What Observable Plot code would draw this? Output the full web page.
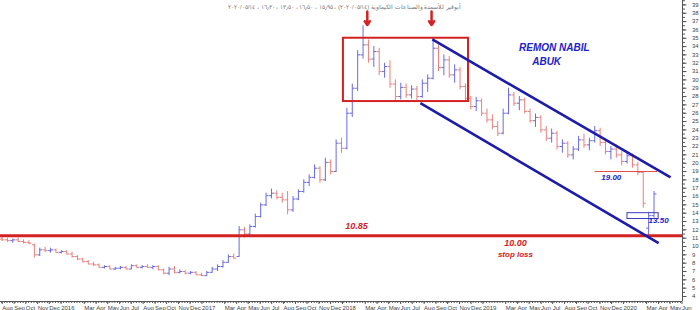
<!DOCTYPE html>
<html>
<head>
<meta charset="utf-8">
<script src="https://cdn.jsdelivr.net/npm/d3@7"></script>
<script src="https://cdn.jsdelivr.net/npm/@observablehq/plot@0.6"></script>
<style>
  html, body { margin: 0; padding: 0; background: #fff; }
  #chart svg { display: block; }
</style>
</head>
<body>
<div id="chart"></div>
<script>
// ---- Data (bi-weekly OHLC bars) ----
const firstBar = "2015-08-03";
const opens = [10.9,10.8,10.7,10.8,10.6,10.5,10.2,9.0,9.6,9.5, 9.6,9.3,9.4,9.1,8.8,8.5,8.2,7.9,7.8,7.5, 7.6,7.3,7.4,7.5,7.3,7.7,7.5,7.6,7.5,7.6, 7.2,6.8,7.3,6.9,7.0,6.8,6.9,6.6,6.5,6.9, 7.3,7.6,8.1,8.8,8.8,12.0,11.5,12.4,13.6,15.0, 16.1,16.4,15.9,15.6,14.4,15.7,16.6,17.7,18.3,19.4, 18.0,20.1,19.0,22.4,21.8,26.0,29.0,33.0,34.2,32.5, 33.4,31.0,31.6,29.5,28.0,29.1,28.2,28.9,28.0,29.6, 30.2,33.8,31.5,32.4,30.6,31.2,29.2,27.8,26.8,27.5, 26.0,25.2,24.4,23.6,26.0,28.2,27.2,27.6,26.2,25.1, 25.5,24.0,23.0,23.6,22.0,22.4,21.0,21.7,22.8,22.2, 22.7,23.9,22.5,21.4,21.7,21.0,20.2,20.9,19.8,18.9, 12.2,13.7];
const highs = [11.1,11.0,10.9,11.0,10.8,10.7,10.3,9.8,9.9,9.8, 9.7,9.5,9.5,9.3,8.9,8.6,8.3,8.1,7.9,7.7, 7.7,7.5,7.6,7.6,7.8,7.8,7.7,7.8,7.7,7.7, 7.3,7.5,7.6,7.2,7.1,7.0,7.0,6.8,7.0,7.5, 7.8,8.3,9.0,9.1,12.4,12.3,12.6,13.9,15.2,16.4, 16.9,16.7,16.4,16.6,16.0,16.8,18.0,18.6,19.8,19.6, 20.6,20.4,22.8,23.0,26.6,29.5,33.5,36.5,34.8,34.0, 33.8,32.0,32.3,30.0,29.6,29.5,29.3,29.2,30.0,30.6, 35.1,34.2,33.0,32.8,31.8,31.5,29.5,28.0,27.9,27.7, 26.5,25.8,25.0,26.5,29.0,28.5,28.0,27.8,26.5,25.9, 25.7,24.4,24.1,23.8,22.8,22.6,22.0,23.2,23.5,23.0, 24.4,24.2,22.9,22.0,22.2,21.4,21.3,21.1,20.1,19.0, 14.1,16.6];
const lows = [10.6,10.5,10.4,10.5,10.3,10.2,8.6,8.8,9.3,9.2, 9.2,9.1,9.0,8.6,8.3,8.0,7.8,7.6,7.4,7.3, 7.2,7.1,7.2,7.2,7.2,7.4,7.3,7.4,7.2,7.1, 6.6,6.5,6.7,6.7,6.6,6.6,6.5,6.4,6.4,6.8, 7.0,7.4,8.0,8.5,8.7,11.0,11.3,12.2,13.4,14.8, 15.7,15.6,15.2,13.8,14.1,15.5,16.4,17.2,18.1,17.6, 17.8,18.6,18.9,21.2,21.6,25.5,28.6,32.5,32.0,31.5, 30.5,30.2,29.0,27.5,27.6,27.8,27.7,27.5,27.8,28.5, 30.0,31.0,30.5,30.2,29.6,28.8,27.3,26.4,26.2,25.6, 24.8,24.0,23.2,23.4,25.8,26.8,26.3,25.9,24.8,24.3, 23.6,22.6,22.4,21.6,21.2,20.6,20.4,21.4,21.8,21.5, 22.4,22.0,21.0,20.4,20.6,19.7,19.9,19.4,18.5,14.6, 10.9,13.4];
const closes = [10.8,10.7,10.8,10.6,10.5,10.4,9.0,9.6,9.5,9.6, 9.3,9.4,9.1,8.8,8.5,8.2,7.9,7.8,7.5,7.6, 7.3,7.4,7.5,7.3,7.7,7.5,7.6,7.5,7.6,7.2, 6.8,7.3,6.9,7.0,6.8,6.9,6.6,6.5,6.9,7.3, 7.6,8.1,8.8,8.6,12.0,11.5,12.4,13.6,15.0,16.1, 16.4,15.9,15.6,14.4,15.7,16.6,17.7,18.3,19.4,18.0, 20.1,19.0,22.4,21.8,26.0,29.0,33.0,34.2,32.5,33.4, 31.0,31.6,29.5,28.0,29.1,28.2,28.9,28.0,29.6,30.2, 33.8,31.5,32.4,30.6,31.2,29.2,27.8,26.8,27.5,26.0, 25.2,24.4,23.6,26.0,28.2,27.2,27.6,26.2,25.1,25.5, 24.0,23.0,23.6,22.0,22.4,21.0,21.7,22.8,22.2,22.7, 23.9,22.5,21.4,21.7,21.0,20.2,20.9,19.8,18.9,15.2, 13.7,16.3];

// ---- Axis / tick definitions ----
const xDomain = [new Date("2015-07-30"), new Date("2020-06-05")];
const yDomain = [3.4, 39.53];
const yTickValues = d3.range(4, 40);           // 4 … 39
const yMinorTicks = d3.range(4, 39.6, 0.5);
const monthLabels = ["", "Feb", "Mar", "Apr", "May", "Jun", "Jul", "Aug", "Sep", "Oct", "Nov", "Dec"];
const skipMonths = ["Feb"];

// ---- Annotations (data coordinates) ----
const titleText = ["أبوقير للأسمدة والصناعات الكيماوية (٢٠٢٠/٠٥/١٤) ، ١٥٫٩٥ ، ١٦٫٥٠ ، ١٣٫٥٠ ، ١٦٫٣٠ ، ٢٠٢٠/٠٥/١٤"];
const supportLevel = [11.3];
const redBox = [{x1: new Date("2018-01-06"), x2: new Date("2018-11-27"), y1: 27.4, y2: 35.0}];
const channelLines = [
  {x1: new Date("2018-08-25"), y1: 34.85, x2: new Date("2020-05-05"), y2: 18.3},
  {x1: new Date("2018-07-25"), y1: 27.2,  x2: new Date("2020-04-04"), y2: 10.4}
];
const level19 = [{x1: new Date("2019-10-22"), x2: new Date("2020-04-01"), y: 19.0}];
const box1350 = [{x1: new Date("2020-01-14"), x2: new Date("2020-04-04"), y1: 13.3, y2: 14.0}];
const arrows = [
  {x: new Date("2018-03-09"), y1: 38.2, y2: 36.6},
  {x: new Date("2018-08-23"), y1: 38.2, y2: 36.6}
];
const redLabels = [
  {x: new Date("2018-02-09"), y: 12.5, text: "10.85", size: 9},
  {x: new Date("2019-03-29"), y: 10.35, text: "10.00", size: 9},
  {x: new Date("2019-03-29"), y: 9.0, text: "stop loss", size: 8}
];
const blueLabels = [
  {x: new Date("2019-07-08"), y: 33.9, text: "REMON NABIL", size: 10},
  {x: new Date("2019-06-18"), y: 32.2, text: "ABUK", size: 10},
  {x: new Date("2019-12-03"), y: 18.3, text: "19.00", size: 8},
  {x: new Date("2020-04-04"), y: 13.1, text: "13.50", size: 8}
];

// ---- Build table ----
const upColor = "#6a6ae2", downColor = "#e8807c";
const bars = opens.map((o, i) => ({
  date: d3.utcDay.offset(new Date(firstBar), 14 * i),
  open: o, high: highs[i], low: lows[i], close: closes[i],
  color: closes[i] >= o ? upColor : downColor
}));

const openTick = {draw(ctx) { ctx.moveTo(-2.5, 0); ctx.lineTo(0, 0); }};
const closeTick = {draw(ctx) { ctx.moveTo(0, 0); ctx.lineTo(2.5, 0); }};

const monthTicks = d3.utcMonth.range(xDomain[0], xDomain[1]).filter(d => !skipMonths.includes(monthLabels[d.getUTCMonth()]));
const weekTicks = d3.utcWeek.range(xDomain[0], xDomain[1]);
const fmtMonth = d => d.getUTCMonth() === 0 ? String(d.getUTCFullYear()) : monthLabels[d.getUTCMonth()];

const chart = Plot.plot({
  width: 700,
  height: 310,
  marginLeft: 0,
  marginRight: 18,
  marginTop: 0,
  marginBottom: 9,
  style: {fontFamily: "Arial, 'Liberation Sans', sans-serif", background: "#fff", overflow: "visible"},
  x: {type: "utc", domain: xDomain, axis: null},
  y: {domain: yDomain, axis: null},
  color: {type: "identity"},
  marks: [
    // axes
    Plot.axisY({anchor: "right", ticks: yMinorTicks, tickSize: 2, tickFormat: () => "", stroke: "#555", label: null}),
    Plot.axisY({anchor: "right", ticks: yTickValues, tickSize: 3.5, tickPadding: 6, fontSize: 6, fill: "#444", stroke: "#555", label: null}),
    Plot.axisX({anchor: "bottom", ticks: weekTicks, tickSize: 2, tickFormat: () => "", stroke: "#555", label: null}),
    Plot.axisX({anchor: "bottom", ticks: monthTicks, tickSize: 3, tickPadding: 1, fontSize: 6, fill: "#444", stroke: "#555", tickFormat: fmtMonth, textAnchor: "start", dx: 1, label: null}),
    Plot.ruleX([xDomain[1]], {stroke: "#555", strokeWidth: 1}),
    Plot.ruleY([yDomain[0]], {stroke: "#555", strokeWidth: 1}),
    // title
    Plot.text(titleText, {frameAnchor: "top", text: d => d, dy: 4, dx: 3, fontSize: 6, fill: "#777"}),
    // OHLC bars
    Plot.ruleX(bars, {x: "date", y1: "low", y2: "high", stroke: "color", strokeWidth: 1}),
    Plot.dot(bars, {x: "date", y: "open", symbol: openTick, stroke: "color", fill: "none", strokeWidth: 1}),
    Plot.dot(bars, {x: "date", y: "close", symbol: closeTick, stroke: "color", fill: "none", strokeWidth: 1}),
    // annotations
    Plot.ruleY(supportLevel, {stroke: "#d42222", strokeWidth: 3}),
    Plot.rect(redBox, {x1: "x1", x2: "x2", y1: "y1", y2: "y2", fill: "none", stroke: "#d42222", strokeWidth: 2}),
    Plot.link(channelLines, {x1: "x1", y1: "y1", x2: "x2", y2: "y2", stroke: "#1c1ca8", strokeWidth: 2.6}),
    Plot.ruleY(level19, {x1: "x1", x2: "x2", y: "y", stroke: "#e04a4a", strokeWidth: 1}),
    Plot.rect(box1350, {x1: "x1", x2: "x2", y1: "y1", y2: "y2", fill: "none", stroke: "#3a3ab8", strokeWidth: 1}),
    Plot.arrow(arrows, {x: "x", y1: "y1", y2: "y2", stroke: "#d42222", strokeWidth: 2.5, headLength: 6, headAngle: 70}),
    Plot.text(redLabels, {x: "x", y: "y", text: "text", fontSize: d => d.size, fill: "#d42222", fontWeight: "bold", fontStyle: "italic"}),
    Plot.text(blueLabels, {x: "x", y: "y", text: "text", fontSize: d => d.size, fill: "#2222c8", fontWeight: "bold", fontStyle: "italic"})
  ]
});
document.getElementById("chart").appendChild(chart);
</script>
</body>
</html>
